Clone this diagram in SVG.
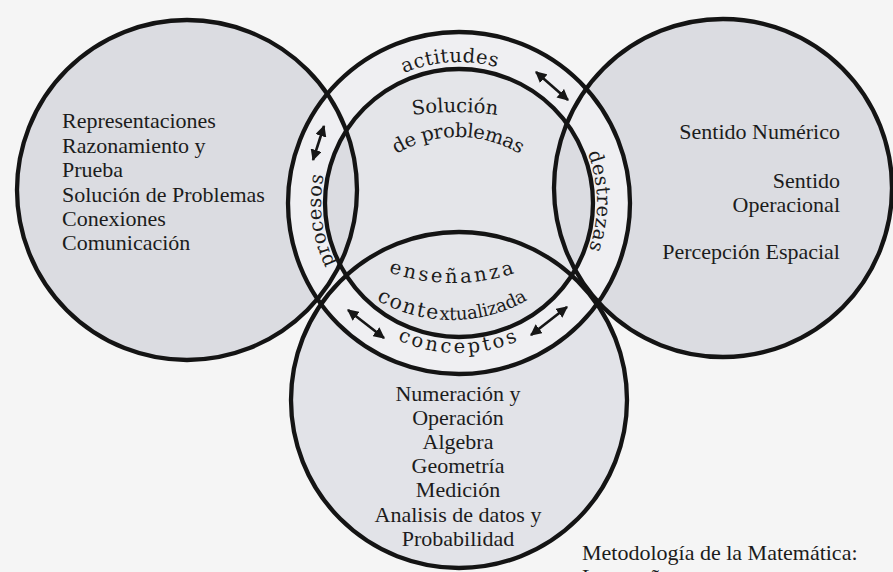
<svg xmlns="http://www.w3.org/2000/svg" xmlns:xlink="http://www.w3.org/1999/xlink" width="893" height="572" viewBox="0 0 893 572">
<style>
.edge{fill:none;stroke:#141414;stroke-width:4.3}
.list{font-family:"Liberation Serif","Times New Roman",serif;font-size:22px;fill:#1c1c1c}
.ring{font-family:"DejaVu Serif","Liberation Serif",serif;font-size:19.5px;fill:#1c1c1c}
.arrow{stroke:#161616;stroke-width:2.6;fill:none;marker-start:url(#head);marker-end:url(#head)}
</style>
<defs>
<marker id="head" viewBox="0 0 10 10" refX="9" refY="5" markerWidth="4.4" markerHeight="4.4" orient="auto-start-reverse" markerUnits="strokeWidth">
<path d="M0,0 L10,5 L0,10 z" fill="#161616"/>
</marker>
<clipPath id="innerClip"><circle cx="459" cy="203" r="134"/></clipPath>
<path id="ringTop" d="M459 344 A141 141 0 1 1 459 62 A141 141 0 1 1 459 344"/>
<path id="ringSide" d="M459 341 A138 138 0 1 1 459 65 A138 138 0 1 1 459 341"/>
<path id="ringBottom" d="M309 203 A150 150 0 0 0 609 203"/>
<path id="pEns" d="M253 83 A200 200 0 0 0 653 83"/>
<path id="pCon" d="M300 168 A152 152 0 0 0 604 168"/>
<path id="pSol" d="M155 412 A300 300 0 0 1 755 412"/>
<path id="pDe" d="M338 257 A120 120 0 0 1 578 257"/>
</defs>
<rect width="893" height="572" fill="#f5f5f5"/>

<g id="fills">
<circle cx="187" cy="190" r="170" fill="#dbdce1"/>
<circle cx="723" cy="188" r="169" fill="#dbdce1"/>
<circle cx="459" cy="400" r="168" fill="#e2e3e8"/>
<circle cx="459" cy="203" r="171" fill="#efeff2"/>
<circle cx="459" cy="203" r="134" fill="#e4e5e9"/>
<g clip-path="url(#innerClip)">
<circle cx="187" cy="190" r="170" fill="#dbdce1"/>
<circle cx="723" cy="188" r="169" fill="#dbdce1"/>
</g>
</g>

<g id="node-procesos-circle">
<circle class="edge" cx="187" cy="190" r="170"/>
<text class="list" x="62" y="128">Representaciones</text>
<text class="list" x="62" y="153">Razonamiento y</text>
<text class="list" x="62" y="177">Prueba</text>
<text class="list" x="62" y="202">Solución de Problemas</text>
<text class="list" x="62" y="226">Conexiones</text>
<text class="list" x="62" y="250">Comunicación</text>
</g>

<g id="node-destrezas-circle">
<circle class="edge" cx="723" cy="188" r="169"/>
<text class="list" x="840" y="139" text-anchor="end">Sentido Numérico</text>
<text class="list" x="840" y="188" text-anchor="end">Sentido</text>
<text class="list" x="840" y="212" text-anchor="end">Operacional</text>
<text class="list" x="840" y="259" text-anchor="end">Percepción Espacial</text>
</g>

<g id="node-conceptos-circle">
<circle class="edge" cx="459" cy="400" r="168"/>
<text class="list" x="458" y="401" text-anchor="middle">Numeración y</text>
<text class="list" x="458" y="425" text-anchor="middle">Operación</text>
<text class="list" x="458" y="449" text-anchor="middle">Algebra</text>
<text class="list" x="458" y="473" text-anchor="middle">Geometría</text>
<text class="list" x="458" y="497" text-anchor="middle">Medición</text>
<text class="list" x="458" y="522" text-anchor="middle">Analisis de datos y</text>
<text class="list" x="458" y="546" text-anchor="middle">Probabilidad</text>
</g>

<g id="node-center-ring">
<circle class="edge" cx="459" cy="203" r="171"/>
<circle class="edge" cx="459" cy="203" r="134"/>
<text class="ring" letter-spacing="0.5"><textPath href="#ringTop" xlink:href="#ringTop" startOffset="49%" text-anchor="middle">actitudes</textPath></text>
<text class="ring" letter-spacing="0.5"><textPath href="#ringSide" xlink:href="#ringSide" startOffset="23%" text-anchor="middle">procesos</textPath></text>
<text class="ring" letter-spacing="0.5"><textPath href="#ringSide" xlink:href="#ringSide" startOffset="74.8%" text-anchor="middle">destrezas</textPath></text>
<text class="ring" font-size="20.5" letter-spacing="3"><textPath href="#ringBottom" xlink:href="#ringBottom" startOffset="50%" text-anchor="middle">conceptos</textPath></text>
<text class="ring" font-size="21.5"><textPath href="#pSol" xlink:href="#pSol" startOffset="50%" text-anchor="middle">Solución</textPath></text>
<text class="ring" font-size="19.5" letter-spacing="-0.4"><textPath href="#pDe" xlink:href="#pDe" startOffset="50%" text-anchor="middle">de problemas</textPath></text>
<text class="ring" font-size="18.5" letter-spacing="3"><textPath href="#pEns" xlink:href="#pEns" startOffset="50%" text-anchor="middle">enseñanza</textPath></text>
<text class="ring"><textPath href="#pCon" xlink:href="#pCon" startOffset="50%" text-anchor="middle"><tspan font-size="20.5" letter-spacing="1.8">conte</tspan><tspan font-size="18" letter-spacing="-0.2">xtualizada</tspan></textPath></text>
</g>

<g id="connectors">
<line class="arrow" x1="536" y1="72" x2="568" y2="100"/>
<line class="arrow" x1="324" y1="126" x2="313" y2="160"/>
<line class="arrow" x1="348" y1="310" x2="384" y2="338"/>
<line class="arrow" x1="531" y1="335" x2="567" y2="307"/>
</g>

<g id="caption">
<text class="list" x="582" y="560">Metodología de la Matemática:</text>
<text class="list" x="582" y="584">La enseñanza en contexto con</text>
</g>
</svg>
